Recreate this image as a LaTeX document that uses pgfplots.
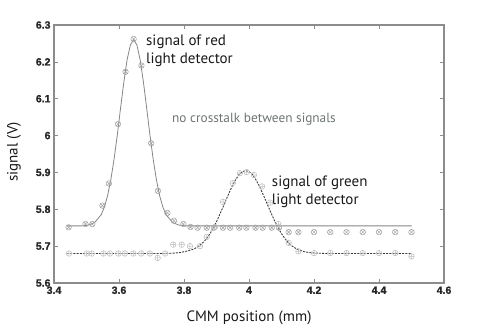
\documentclass[border=0pt]{standalone}
\usepackage{pgfplots}
\pgfplotsset{compat=1.18}
\usepackage{fontspec}
\setmainfont{PT Sans}
\newfontfamily\tickfont{Liberation Sans}[BoldFeatures={FakeBold=1.2}]
\definecolor{axgray}{HTML}{8C8C8C}
\definecolor{redfit}{HTML}{858585}
\definecolor{greenfit}{HTML}{3A3A3A}
\definecolor{redmark}{HTML}{A0A0A0}
\definecolor{greenmark}{HTML}{BDBDBD}
\definecolor{notegray}{HTML}{6E7474}

\begin{document}
\begin{tikzpicture}
\useasboundingbox (-54pt,-53pt) rectangle (430pt,283pt);
\begin{axis}[
    at={(0,0)}, anchor=south west,
    scale only axis,
    width=390pt, height=258pt,
    xmin=3.4, xmax=4.6,
    ymin=5.6, ymax=6.3,
    xtick={3.4,3.6,3.8,4,4.2,4.4,4.6},
    ytick={5.6,5.7,5.8,5.9,6,6.1,6.2,6.3},
    tick align=inside,
    major tick length=4pt,
    axis line style={axgray, line width=1.2pt},
    tick style={axgray, line width=0.7pt},
    ticklabel style={font=\tickfont\bfseries\fontsize{10.5}{12}\selectfont, text=black!85},
    /pgf/number format/assume math mode=true,
    xlabel={CMM position (mm)},
    ylabel={signal (V)},
    label style={font=\fontsize{15}{18}\selectfont, text=black!90},
    xlabel style={at={(axis description cs:0.5,-0.136)}, anchor=center},
    ylabel style={at={(axis description cs:-0.1026,0.508)}, anchor=center, rotate=0},
]
% red detector data
\addplot[only marks, mark=otimes, mark size=2.8pt, redmark, mark options={line width=0.5pt}] coordinates {
(3.445,5.751) (3.497,5.760) (3.518,5.760) (3.549,5.810) (3.569,5.870) (3.597,6.031)
(3.620,6.173) (3.645,6.262) (3.669,6.190) (3.699,5.979) (3.720,5.850) (3.749,5.790)
(3.769,5.769) (3.798,5.760) (3.820,5.752) (3.842,5.750) (3.870,5.750) (3.892,5.750)
(3.920,5.750) (3.942,5.750) (3.970,5.750) (3.992,5.750) (4.020,5.750) (4.042,5.750)
(4.070,5.750) (4.092,5.750) (4.122,5.738) (4.152,5.738) (4.200,5.738) (4.250,5.738)
(4.300,5.738) (4.350,5.738) (4.400,5.738) (4.450,5.738) (4.500,5.738)
};
% green detector data
\addplot[only marks, mark=oplus, mark size=2.8pt, greenmark, mark options={line width=0.5pt}] coordinates {
(3.446,5.680) (3.500,5.680) (3.516,5.680) (3.552,5.680) (3.572,5.680) (3.598,5.680)
(3.618,5.680) (3.644,5.680) (3.668,5.680) (3.695,5.680) (3.719,5.668) (3.742,5.680)
(3.767,5.704) (3.793,5.704) (3.818,5.700) (3.849,5.700) (3.870,5.725) (3.895,5.752)
(3.920,5.820) (3.950,5.871) (3.972,5.898) (3.993,5.901) (4.015,5.893) (4.040,5.862)
(4.065,5.818) (4.090,5.760) (4.122,5.709) (4.152,5.686) (4.200,5.681) (4.250,5.681)
(4.300,5.681) (4.350,5.681) (4.400,5.681) (4.450,5.681) (4.500,5.672)
};
% red detector fit
\addplot[redfit, line width=0.8pt, no marks] coordinates {
(3.44,5.755) (3.485,5.755) (3.505,5.757) (3.525,5.764) (3.545,5.785) (3.555,5.806)
(3.565,5.837) (3.575,5.881) (3.585,5.937) (3.595,6.003) (3.605,6.076) (3.615,6.146)
(3.625,6.206) (3.635,6.246) (3.645,6.260) (3.655,6.246) (3.665,6.206) (3.675,6.146)
(3.685,6.076) (3.695,6.003) (3.705,5.937) (3.715,5.881) (3.725,5.837) (3.735,5.806)
(3.745,5.785) (3.765,5.764) (3.785,5.757) (3.805,5.755) (4.50,5.755)
};
% green detector fit
\addplot[greenfit, line width=0.9pt, dash pattern=on 2pt off 1.2pt, no marks] coordinates {
(3.44,5.680) (3.74,5.680) (3.77,5.681) (3.79,5.683) (3.81,5.687) (3.83,5.692)
(3.84,5.697) (3.85,5.703) (3.86,5.711) (3.87,5.721) (3.88,5.734) (3.89,5.749)
(3.90,5.766) (3.91,5.786) (3.92,5.806) (3.93,5.827) (3.94,5.847) (3.95,5.866)
(3.96,5.882) (3.97,5.895) (3.98,5.902) (3.99,5.905) (4.00,5.902) (4.01,5.895)
(4.02,5.882) (4.03,5.866) (4.04,5.847) (4.05,5.827) (4.06,5.806) (4.07,5.786)
(4.08,5.766) (4.09,5.749) (4.10,5.734) (4.11,5.721) (4.12,5.710) (4.13,5.702)
(4.14,5.696) (4.15,5.691) (4.17,5.685) (4.19,5.682) (4.21,5.681) (4.24,5.680)
(4.50,5.680)
};
\node[anchor=west, inner sep=0pt, align=left, text=black!90, font=\fontsize{15}{18}\selectfont]
  at (axis cs:3.683,6.231) {signal of red\\light detector};
\node[anchor=west, inner sep=0pt, text=notegray, font=\fontsize{13.3}{16}\selectfont]
  at (axis cs:3.763,6.045) {no crosstalk between signals};
\node[anchor=west, inner sep=0pt, align=left, text=black!90, font=\fontsize{15}{18}\selectfont]
  at (axis cs:4.070,5.847) {signal of green\\light detector};
\end{axis}
\end{tikzpicture}
\end{document}
